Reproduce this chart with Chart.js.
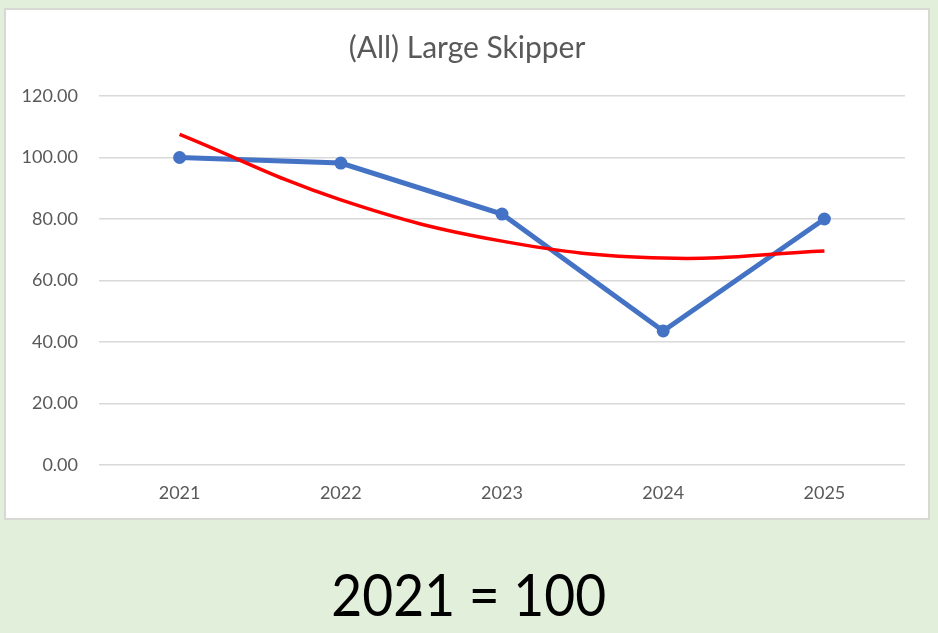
<!DOCTYPE html>
<html>
<head>
<meta charset="utf-8">
<script src="https://cdn.jsdelivr.net/npm/chart.js@4"></script>
<style>
  html, body { margin: 0; padding: 0; }
  body { width: 938px; height: 633px; background: #E2EFDA; position: relative; overflow: hidden; }
  #panel {
    position: absolute; left: 4px; top: 8px; width: 926px; height: 512px;
    box-sizing: border-box; border: 2px solid #D6D9D4; background: #fff;
  }
  #panel canvas { display: block; }
  #note {
    position: absolute; left: 0; width: 938px; top: 559px; text-align: center;
    font-family: Lato, "Open Sans", sans-serif; font-size: 58px; line-height: 70px; color: #000;
    transform: scaleX(0.92); transform-origin: 466px 0;
  }
</style>
</head>
<body>
<div id="panel"><canvas id="skipperChart" width="922" height="508"></canvas></div>
<div id="note">2021 = 100</div>
<script>
  // chart data
  const years = ["2021", "2022", "2023", "2024", "2025"];
  const indexValues = [100, 98.2, 81.6, 43.6, 80.0];
  // polynomial trendline at each year
  const trendValues = [107.5, 86.2, 72.8, 67.3, 69.6];
  const yTicks = [0, 20, 40, 60, 80, 100, 120];
  const chartTitle = "(All) Large Skipper";

  // title centred on the whole panel, not on the padded layout box
  const titlePlugin = {
    id: "panelTitle",
    afterDraw(chart) {
      const c = chart.ctx;
      c.save();
      c.fillStyle = "#595959";
      c.font = "30px Lato, 'Open Sans', sans-serif";
      c.textAlign = "center";
      c.textBaseline = "middle";
      c.fillText(chartTitle, chart.width / 2, 38);
      c.restore();
    },
  };

  document.addEventListener("DOMContentLoaded", () => {
    const ctx = document.getElementById("skipperChart").getContext("2d");

    new Chart(ctx, {
      type: "line",
      data: {
        labels: years,
        datasets: [
          {
            label: "Trend",
            data: trendValues,
            borderColor: "#FF0000",
            borderWidth: 3.5,
            pointRadius: 0,
            tension: 0.4,
            fill: false,
            order: 0,
          },
          {
            label: "Index",
            data: indexValues,
            borderColor: "#4472C4",
            backgroundColor: "#4472C4",
            borderWidth: 5,
            pointRadius: 6.5,
            pointBorderWidth: 0,
            tension: 0,
            fill: false,
            order: 1,
          },
        ],
      },
      plugins: [titlePlugin],
      options: {
        responsive: false,
        animation: false,
        devicePixelRatio: 1,
        layout: { padding: { left: 0, right: 23, top: 86, bottom: 0 } },
        plugins: {
          legend: { display: false },
          tooltip: { enabled: false },
          title: { display: false },
        },
        scales: {
          x: {
            offset: true,
            grid: { display: false, drawTicks: false },
            border: { display: false },
            ticks: {
              color: "#595959",
              font: { family: "Lato, 'Open Sans', sans-serif", size: 18 },
              padding: 17,
            },
            afterFit: (scale) => { scale.height = 53; },
          },
          y: {
            min: 0,
            max: 120,
            afterBuildTicks: (scale) => { scale.ticks = yTicks.map((v) => ({ value: v })); },
            grid: { color: "#D9D9D9", lineWidth: 1.5, drawTicks: false },
            border: { display: false },
            ticks: {
              color: "#595959",
              font: { family: "Lato, 'Open Sans', sans-serif", size: 18 },
              padding: 21,
              callback: (v) => Number(v).toFixed(2),
            },
            afterFit: (scale) => { scale.width = 93; },
          },
        },
      },
    });
  });
</script>
</body>
</html>
